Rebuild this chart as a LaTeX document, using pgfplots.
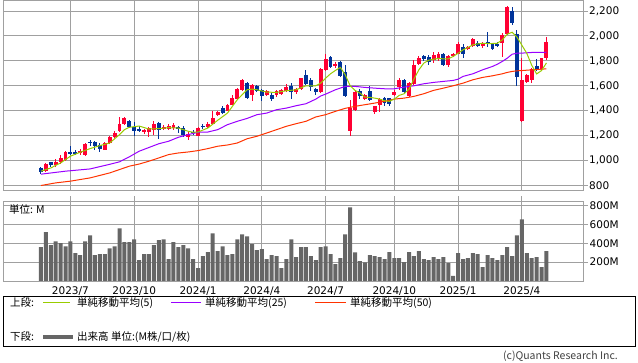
\documentclass[border=0pt]{standalone}
\usepackage{pgfplots}
\pgfplotsset{compat=1.18}
\usepackage{pgfplotstable}
\usepackage{fontspec}
\setmainfont{DejaVu Sans}
\newfontfamily\jp{Noto Sans CJK JP}
\definecolor{gridgray}{HTML}{A0A0A0}
\definecolor{upred}{HTML}{FF0033}
\definecolor{downblue}{HTML}{003399}
\definecolor{maA}{HTML}{99CC00}
\definecolor{maB}{HTML}{9900FF}
\definecolor{maC}{HTML}{FF3300}
\definecolor{volgray}{HTML}{666666}

\pgfplotstableread{
i o h l c
0 938 946 896 906
1 920 982 912 976
2 989 992 952 963
3 965 1013 947 992
4 987 1048 976 1024
5 1008 1075 1000 1072
6 1072 1120 1045 1056
7 1064 1083 1045 1058
8 1059 1093 1045 1080
9 1043 1141 1035 1133
10 1152 1168 1120 1143
11 1147 1155 1083 1120
12 1125 1141 1067 1093
13 1088 1147 1083 1141
14 1141 1195 1131 1187
15 1189 1235 1181 1219
16 1235 1347 1229 1293
17 1291 1347 1285 1339
18 1320 1328 1259 1267
19 1267 1312 1200 1235
20 1256 1280 1227 1235
21 1227 1253 1216 1245
22 1227 1269 1187 1261
23 1248 1315 1208 1296
24 1304 1307 1173 1248
25 1253 1288 1243 1272
26 1256 1291 1243 1277
27 1261 1299 1248 1285
28 1272 1280 1221 1253
29 1259 1275 1189 1203
30 1189 1227 1163 1216
31 1232 1248 1205 1221
32 1200 1267 1195 1264
33 1278 1296 1253 1272
34 1269 1307 1264 1296
35 1293 1395 1288 1344
36 1363 1400 1355 1392
37 1419 1435 1376 1381
38 1400 1451 1395 1445
39 1448 1528 1443 1499
40 1496 1581 1491 1576
41 1568 1653 1560 1643
42 1621 1627 1493 1499
43 1523 1611 1475 1605
44 1595 1608 1547 1555
45 1563 1573 1475 1515
46 1528 1568 1520 1557
47 1528 1541 1475 1496
48 1523 1563 1512 1555
49 1536 1573 1523 1563
50 1555 1613 1547 1592
51 1600 1624 1496 1552
52 1547 1584 1531 1573
53 1573 1664 1565 1659
54 1685 1728 1608 1616
55 1643 1661 1560 1587
56 1573 1581 1528 1547
57 1547 1741 1541 1733
58 1728 1853 1715 1813
59 1827 1835 1739 1747
60 1755 1787 1741 1776
61 1787 1795 1669 1680
62 1707 1768 1507 1515
63 1235 1488 1195 1419
64 1408 1563 1400 1549
65 1555 1573 1496 1520
66 1496 1536 1488 1528
67 1555 1600 1475 1483
68 1392 1440 1376 1437
69 1448 1501 1387 1493
70 1499 1507 1435 1461
71 1499 1504 1435 1456
72 1528 1563 1520 1552
73 1589 1661 1568 1648
74 1648 1653 1541 1547
75 1515 1632 1509 1621
76 1616 1808 1608 1768
77 1776 1835 1765 1821
78 1835 1848 1797 1816
79 1832 1848 1765 1787
80 1808 1867 1781 1843
81 1819 1867 1795 1853
82 1856 1864 1755 1763
83 1763 1845 1752 1835
84 1843 1861 1829 1851
85 1858 1955 1851 1935
86 1915 1933 1824 1851
87 1896 1923 1883 1915
88 1920 1987 1915 1973
89 1941 1963 1909 1917
90 1917 1955 1899 1941
91 1949 2029 1915 1944
92 1933 1947 1883 1893
93 1939 1955 1909 1920
94 1941 2021 1829 2008
95 2016 2243 2008 2229
96 2200 2229 2091 2101
97 2016 2048 1595 1669
98 1315 1821 1307 1648
99 1632 1693 1621 1685
100 1643 1741 1621 1733
101 1755 1813 1715 1725
102 1731 1821 1715 1819
103 1821 1995 1808 1952
}\candles

\pgfplotstableread{
i v
0 358
1 519
2 379
3 421
4 400
5 368
6 421
7 295
8 274
9 421
10 484
11 274
12 284
13 284
14 347
15 368
16 558
17 411
18 411
19 442
20 221
21 284
22 284
23 379
24 432
25 442
26 232
27 411
28 358
29 379
30 347
31 232
32 137
33 263
34 305
35 505
36 316
37 368
38 274
39 284
40 442
41 495
42 474
43 390
44 326
45 337
46 232
47 274
48 263
49 137
50 232
51 442
52 253
53 358
54 358
55 263
56 221
57 358
58 368
59 284
60 179
61 242
62 495
63 779
64 303
65 211
66 198
67 274
68 263
69 253
70 232
71 305
72 242
73 242
74 200
75 305
76 263
77 316
78 232
79 221
80 253
81 232
82 253
83 190
84 53
85 295
86 232
87 242
88 295
89 284
90 147
91 274
92 242
93 221
94 274
95 358
96 263
97 484
98 653
99 295
100 242
101 253
102 147
103 316
}\volume

\pgfplotsset{
  candle/.style n args={2}{draw=none, mark=none, forget plot,
    error bars/.cd, y dir=both, y explicit, error mark=none,
    error bar style={draw=#1, line width=#2, solid}, /pgfplots/.cd},
}

\begin{document}
\begin{tikzpicture}[x=1pt,y=1pt]
\useasboundingbox (0,0) rectangle (638,362);

% ---------- price panel ----------
\begin{axis}[
  at={(3.3pt,361.5pt)}, anchor=north west, scale only axis,
  width=579.7pt, height=189.5pt,
  xmin=-7.68, xmax=110.45, ymin=764, ymax=2284,
  axis line style={draw=gridgray, line width=0.9pt},
  xtick={6,19,32,45,58,72,85,98}, xticklabels={},
  ytick={800,1000,1200,1400,1600,1800,2000,2200},
  yticklabels={800,{1,000},{1,200},{1,400},{1,600},{1,800},{2,000},{2,200}},
  ytick pos=right, xtick pos=left, tick align=outside, major tick length=4.5pt,
  xtick style={draw=none}, ytick style={draw=gridgray, line width=0.9pt},
  grid=major, major grid style={draw=gridgray, line width=0.9pt},
  yticklabel style={font=\fontsize{10.5}{12}\selectfont, inner sep=1.5pt},
]
% wicks up
\addplot[restrict expr to domain={\thisrow{c}-\thisrow{o}}{0:100000},
  candle={upred}{1pt}]
  table[x=i, y expr={(\thisrow{h}+\thisrow{l})/2}, y error expr={(\thisrow{h}-\thisrow{l})/2}] {\candles};
% bodies up
\addplot[restrict expr to domain={\thisrow{c}-\thisrow{o}}{0:100000},
  candle={upred}{3.9pt}]
  table[x=i, y expr={(\thisrow{o}+\thisrow{c})/2}, y error expr={max(abs(\thisrow{c}-\thisrow{o})/2,4)}] {\candles};
% wicks down
\addplot[restrict expr to domain={\thisrow{c}-\thisrow{o}}{-100000:-0.001},
  candle={downblue}{1pt}]
  table[x=i, y expr={(\thisrow{h}+\thisrow{l})/2}, y error expr={(\thisrow{h}-\thisrow{l})/2}] {\candles};
% bodies down
\addplot[restrict expr to domain={\thisrow{c}-\thisrow{o}}{-100000:-0.001},
  candle={downblue}{3.9pt}]
  table[x=i, y expr={(\thisrow{o}+\thisrow{c})/2}, y error expr={max(abs(\thisrow{c}-\thisrow{o})/2,4)}] {\candles};

% MA 50
\addplot[maC, line width=1pt, mark=none] coordinates {
(0,800)(3,821)(6,835)(10,861)(14,901)(16,928)(18,955)(20,972)(22,995)(24,1021)(26,1048)(28,1061)(30,1069)(32,1080)(34,1096)(36,1115)(38,1125)(40,1141)(42,1175)(44,1195)(46,1221)(48,1248)(50,1275)(52,1296)(54,1315)(56,1350)(58,1368)(60,1395)(62,1419)(64,1435)(66,1448)(68,1461)(70,1475)(72,1493)(74,1501)(76,1515)(78,1536)(80,1563)(82,1581)(84,1600)(86,1621)(88,1648)(90,1667)(92,1680)(94,1696)(95,1707)(96,1715)(97,1720)(98,1722)(100,1728)(102,1733)(103,1736)};
% MA 25
\addplot[maB, line width=1pt, mark=none] coordinates {
(0,891)(5,915)(10,933)(14,970)(16,990)(18,1030)(20,1075)(22,1105)(24,1135)(26,1155)(28,1187)(30,1208)(32,1227)(34,1229)(36,1248)(38,1288)(40,1315)(42,1338)(44,1368)(46,1381)(48,1408)(50,1421)(52,1440)(54,1456)(56,1493)(57,1518)(58,1533)(60,1568)(62,1595)(64,1595)(66,1587)(68,1581)(70,1576)(72,1576)(74,1589)(76,1600)(78,1616)(80,1627)(82,1635)(84,1643)(85,1653)(86,1675)(88,1696)(90,1728)(92,1755)(93,1773)(94,1795)(95,1821)(96,1853)(97,1861)(98,1862)(100,1867)(102,1867)(103,1869)};
% MA 5
\addplot[maA, line width=1pt, mark=none] coordinates {
(0,915)(2,941)(4,981)(6,1035)(8,1067)(10,1096)(12,1120)(14,1141)(16,1208)(17,1248)(18,1267)(19,1272)(20,1277)(22,1253)(24,1256)(26,1264)(28,1261)(30,1235)(31,1227)(32,1229)(34,1261)(36,1323)(38,1381)(40,1488)(41,1528)(42,1568)(43,1573)(44,1568)(46,1549)(48,1547)(50,1560)(52,1568)(54,1600)(56,1600)(57,1621)(58,1661)(59,1696)(60,1723)(61,1747)(62,1688)(63,1600)(64,1563)(65,1541)(66,1509)(67,1507)(68,1501)(69,1493)(70,1480)(71,1475)(72,1493)(73,1523)(74,1536)(75,1573)(76,1653)(77,1728)(78,1781)(79,1805)(80,1813)(81,1819)(82,1816)(83,1816)(84,1835)(85,1861)(86,1888)(87,1907)(88,1928)(89,1936)(90,1941)(91,1939)(92,1939)(93,1941)(94,1968)(95,2013)(96,2029)(97,1990)(98,1925)(99,1860)(100,1765)(101,1695)(102,1722)(103,1783)};
\end{axis}

% ---------- volume panel ----------
\begin{axis}[
  at={(3.3pt,160.7pt)}, anchor=north west, scale only axis,
  width=579.7pt, height=79.7pt,
  xmin=-7.68, xmax=110.45, ymin=0, ymax=844.5,
  axis line style={draw=gridgray, line width=0.9pt},
  xtick={6,19,32,45,58,72,85,98},
  xticklabels={2023/7,2023/10,2024/1,2024/4,2024/7,2024/10,2025/1,2025/4},
  xtick pos=right, xticklabel pos=left,
  ytick={200,400,600,800}, yticklabels={200M,400M,600M,800M},
  ytick pos=right, tick align=outside, major tick length=5pt,
  tick style={draw=gridgray, line width=0.9pt},
  grid=major, major grid style={draw=gridgray, line width=0.9pt},
  yticklabel style={font=\fontsize{10.5}{12}\selectfont, inner sep=1.5pt},
  xticklabel style={font=\fontsize{10.5}{12}\selectfont, inner sep=1pt},
]
\addplot[ybar, bar width=4pt, fill=volgray, draw=none] table[x=i, y=v] {\volume};
\end{axis}

\node[anchor=west, inner sep=0pt, font=\jp\fontsize{10.5}{12}\selectfont] at (9,152) {単位: M};

% ---------- legend ----------
\draw[black, line width=0.8pt] (3.3,65.5) rectangle (635,15.5);
\begin{scope}[every node/.style={anchor=west, inner sep=0pt, font=\jp\fontsize{10.5}{12}\selectfont}]
\node at (10,59) {上段:};
\draw[maA, line width=1pt] (43,59) -- (70,59);
\node at (77,59) {単純移動平均(5)};
\draw[maB, line width=1pt] (171,59) -- (201,59);
\node at (205,59) {単純移動平均(25)};
\draw[maC, line width=1pt] (315,59) -- (346,59);
\node at (350,59) {単純移動平均(50)};
\node at (10,25) {下段:};
\draw[volgray, line width=3.5pt] (43,25) -- (73,25);
\node at (77,25) {出来高 単位:(M株/口/枚)};
\end{scope}
\node[anchor=east, inner sep=0pt, text=black!75, font=\jp\fontsize{10.5}{12}\selectfont] at (618,6) {(c)Quants Research Inc.};
\end{tikzpicture}
\end{document}
